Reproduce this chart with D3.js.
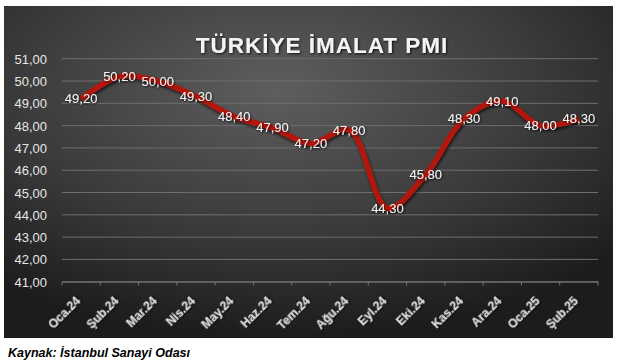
<!DOCTYPE html>
<html><head><meta charset="utf-8">
<script src="https://cdn.jsdelivr.net/npm/d3@7"></script>
<style>html,body{margin:0;padding:0;background:#fff}svg{display:block}</style>
</head><body>
<script>
const categories = ["Oca.24","Şub.24","Mar.24","Nis.24","May.24","Haz.24","Tem.24","Ağu.24","Eyl.24","Eki.24","Kas.24","Ara.24","Oca.25","Şub.25"];
const pmiValues = [49.2,50.2,50.0,49.3,48.4,47.9,47.2,47.8,44.3,45.8,48.3,49.1,48.0,48.3];
const yTicks = [41,42,43,44,45,46,47,48,49,50,51];
const title = "TÜRKİYE İMALAT PMI";
const source = "Kaynak: İstanbul Sanayi Odası";

const W = 620, H = 364;
const svg = d3.select("body").append("svg").attr("width", W).attr("height", H);
const defs = svg.append("defs");
const rg = defs.append("radialGradient").attr("id","bg").attr("cx","45%").attr("cy","25%").attr("r","75%");
rg.append("stop").attr("offset","0%").attr("stop-color","#5e5e5e");
rg.append("stop").attr("offset","55%").attr("stop-color","#3c3c3c");
rg.append("stop").attr("offset","100%").attr("stop-color","#1c1c1c");
const sh = defs.append("filter").attr("id","sh").attr("x","-20%").attr("y","-20%").attr("width","140%").attr("height","160%");
sh.append("feDropShadow").attr("dx",1).attr("dy",2).attr("stdDeviation",1.5).attr("flood-color","#000").attr("flood-opacity",0.7);
const tsh = defs.append("filter").attr("id","tsh").attr("x","-10%").attr("y","-30%").attr("width","120%").attr("height","160%");
tsh.append("feDropShadow").attr("dx",1).attr("dy",1).attr("stdDeviation",1).attr("flood-color","#000").attr("flood-opacity",0.8);

svg.append("rect").attr("x",4).attr("y",6).attr("width",609).attr("height",332).attr("fill","url(#bg)");

const x = d3.scaleBand().domain(categories).range([62, 598]);
const y = d3.scaleLinear().domain([41, 51]).range([281.7, 58.7]);

// grid
svg.append("g").selectAll("line").data(yTicks).join("line")
  .attr("x1",62).attr("x2",598).attr("y1",d=>y(d)).attr("y2",d=>y(d))
  .attr("stroke","#6e6e6e").attr("stroke-width",1);

// y axis labels
const yAxis = d3.axisLeft(y).tickValues(yTicks).tickSize(0).tickPadding(0)
  .tickFormat(d => d3.format(".2f")(d).replace(".", ","));
const gy = svg.append("g").attr("transform","translate(47,0)").call(yAxis);
gy.select(".domain").remove();
gy.selectAll("text").attr("fill","#e6e6e6").attr("font-family","Liberation Sans, Arial, sans-serif").attr("font-size",13).attr("dy","0.35em");

// x axis
const xAxis = d3.axisBottom(x).tickSize(0).tickPadding(0);
const gx = svg.append("g").attr("transform",`translate(0,${y(41)})`).call(xAxis);
gx.select(".domain").attr("stroke","#6e6e6e");
gx.selectAll("text").attr("fill","#e0e0e0").attr("font-family","Liberation Sans, Arial, sans-serif")
  .attr("font-size",12).attr("font-weight","bold").attr("filter","url(#tsh)")
  .attr("text-anchor","end").attr("dy",0).attr("dx",0)
  .attr("transform","translate(0,20) rotate(-45)");
// tick marks between categories
svg.append("g").selectAll("line").data(d3.range(categories.length+1)).join("line")
  .attr("x1",i=>62+i*x.step()).attr("x2",i=>62+i*x.step())
  .attr("y1",y(41)).attr("y2",y(41)+4).attr("stroke","#6e6e6e");

// line
const line = d3.line().x((d,i)=>x(categories[i])+x.bandwidth()/2).y(d=>y(d)).curve(d3.curveCatmullRom.alpha(0.5));
svg.append("path").datum(pmiValues).attr("d",line).attr("fill","none")
  .attr("stroke","#b3180c").attr("stroke-width",5.5).attr("stroke-linejoin","round").attr("filter","url(#sh)");

// data labels
svg.append("g").selectAll("text").data(pmiValues).join("text")
  .attr("x",(d,i)=>x(categories[i])+x.bandwidth()/2).attr("y",d=>y(d)).attr("dy","0.35em")
  .attr("text-anchor","middle").attr("fill","#f2f2f2")
  .attr("font-family","Liberation Sans, Arial, sans-serif").attr("font-size",13)
  .attr("filter","url(#tsh)")
  .text(d=>d3.format(".2f")(d).replace(".", ","));

// title
svg.append("text").attr("x",322).attr("y",53).attr("text-anchor","middle")
  .attr("fill","#f4f4f4").attr("font-family","Liberation Sans, Arial, sans-serif").attr("font-weight","bold")
  .attr("font-size",22.5).attr("letter-spacing",1).attr("filter","url(#tsh)").text(title);

// source
svg.append("text").attr("x",8).attr("y",357).attr("fill","#000")
  .attr("font-family","Liberation Sans, Arial, sans-serif").attr("font-weight","bold").attr("font-style","italic")
  .attr("font-size",12.5).text(source);
</script>
</body></html>
